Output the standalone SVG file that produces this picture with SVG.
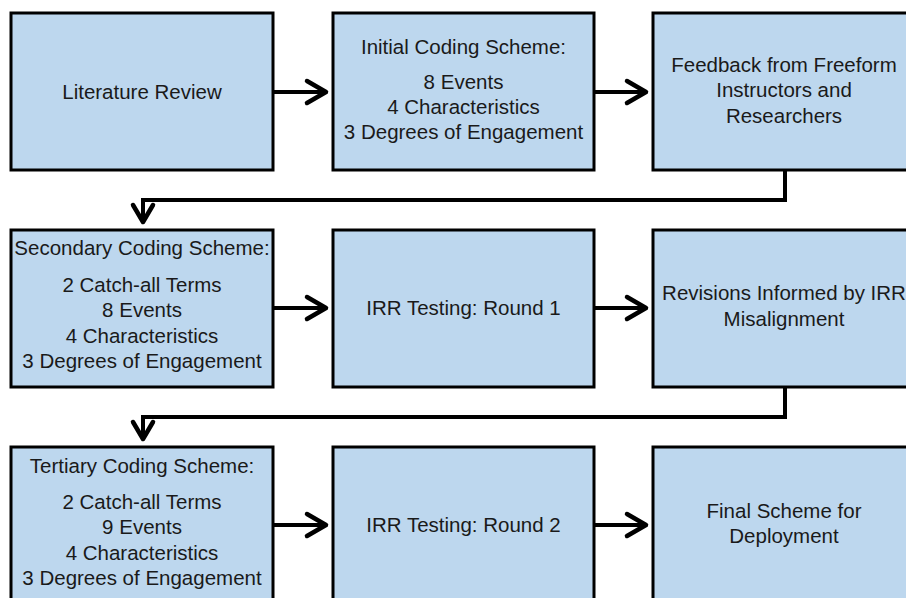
<svg xmlns="http://www.w3.org/2000/svg" width="906" height="598" viewBox="0 0 906 598">
<style>
.box{fill:#BDD7EE;stroke:#000;stroke-width:3}
text{font-family:"Liberation Sans",Arial,sans-serif;font-size:20.5px;fill:#1a1a1a;text-anchor:middle}
.con{fill:none;stroke:#000;stroke-width:4;stroke-linejoin:miter}
.head{fill:none;stroke:#000;stroke-width:4.5;stroke-linecap:round;stroke-linejoin:round}
</style>
<rect width="906" height="598" fill="#fff"/>
<g id="n1"><rect class="box" x="11" y="13" width="262" height="157"/><text x="142" y="99">Literature Review</text></g>
<g id="n2"><rect class="box" x="333" y="13" width="261" height="157"/><text x="463.5" y="54">Initial Coding Scheme:</text><text x="463.5" y="89">8 Events</text><text x="463.5" y="114">4 Characteristics</text><text x="463.5" y="139">3 Degrees of Engagement</text></g>
<g id="n3"><rect class="box" x="653" y="13" width="262" height="157"/><text x="784" y="72">Feedback from Freeform</text><text x="784" y="97">Instructors and</text><text x="784" y="123">Researchers</text></g>
<g id="n4"><rect class="box" x="11" y="230" width="262" height="157"/><text x="142" y="255">Secondary Coding Scheme:</text><text x="142" y="292">2 Catch-all Terms</text><text x="142" y="317">8 Events</text><text x="142" y="343">4 Characteristics</text><text x="142" y="368">3 Degrees of Engagement</text></g>
<g id="n5"><rect class="box" x="333" y="230" width="261" height="157"/><text x="463.5" y="315">IRR Testing: Round 1</text></g>
<g id="n6"><rect class="box" x="653" y="230" width="262" height="157"/><text x="784" y="300">Revisions Informed by IRR</text><text x="784" y="326">Misalignment</text></g>
<g id="n7"><rect class="box" x="11" y="447" width="262" height="160"/><text x="142" y="473">Tertiary Coding Scheme:</text><text x="142" y="509">2 Catch-all Terms</text><text x="142" y="534">9 Events</text><text x="142" y="560">4 Characteristics</text><text x="142" y="585">3 Degrees of Engagement</text></g>
<g id="n8"><rect class="box" x="333" y="447" width="261" height="160"/><text x="463.5" y="532">IRR Testing: Round 2</text></g>
<g id="n9"><rect class="box" x="653" y="447" width="262" height="160"/><text x="784" y="518">Final Scheme for</text><text x="784" y="543">Deployment</text></g>
<g id="connectors">
<line class="con" x1="273" y1="92" x2="325" y2="92"/><polyline class="head" points="307,81 326,92 307,103"/>
<line class="con" x1="594" y1="92" x2="645" y2="92"/><polyline class="head" points="627,81 646,92 627,103"/>
<polyline class="con" points="785,170 785,200 143,200 143,221"/><polyline class="head" points="133,205 143,222 153,205"/>
<line class="con" x1="273" y1="308" x2="325" y2="308"/><polyline class="head" points="307,297 326,308 307,319"/>
<line class="con" x1="594" y1="308" x2="645" y2="308"/><polyline class="head" points="627,297 646,308 627,319"/>
<polyline class="con" points="785,387 785,417 143,417 143,438"/><polyline class="head" points="133,422 143,439 153,422"/>
<line class="con" x1="273" y1="525" x2="325" y2="525"/><polyline class="head" points="307,514 326,525 307,536"/>
<line class="con" x1="594" y1="525" x2="645" y2="525"/><polyline class="head" points="627,514 646,525 627,536"/>
</g>
</svg>
